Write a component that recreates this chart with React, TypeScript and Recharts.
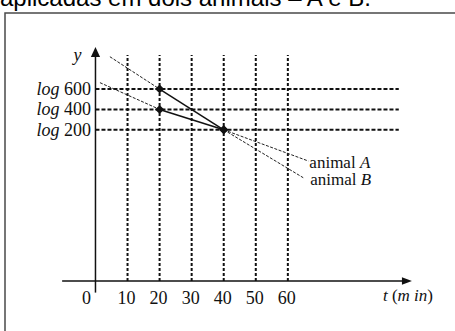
import { LineChart, Line, XAxis, YAxis, ReferenceLine, ReferenceDot } from 'recharts';

// y values are the quantities inside the log (log 600, log 400, log 200)
const levels = [600, 400, 200];
const timeTicks = [0, 10, 20, 30, 40, 50, 60];
const gridTimes = [10, 20, 30, 40, 50, 60];

// measured segments (t in min, n inside the log)
const animalA = [{ t: 20, n: 400 }, { t: 40, n: 200 }];
const animalB = [{ t: 20, n: 600 }, { t: 40, n: 200 }];
const animalALeft = [{ t: 1.4, n: 663 }, { t: 20, n: 400 }];
const animalARight = [{ t: 40, n: 200 }, { t: 66.4, n: -107 }];
const animalBLeft = [{ t: 4.5, n: 918 }, { t: 20, n: 600 }];
const animalBRight = [{ t: 40, n: 200 }, { t: 64.8, n: -271 }];

// axis extents in data units
const X_DOMAIN: [number, number] = [-12, 100];
const Y_DOMAIN: [number, number] = [-1400, 1100];
const X_AXIS_AT = -1286;
const X_AXIS_FROM = -10.4;
const X_AXIS_TIP = 98.7;
const Y_AXIS_TIP = 1014;
const GRID_TOP = 935;
const GRID_RIGHT = 94.6;

const SERIF = '"Liberation Serif", "Times New Roman", serif';
const INK = '#111';

const Diamond = (props: any) => {
  const { cx, cy } = props;
  if (cx == null || cy == null) return null;
  const r = 4.5;
  return <polygon points={`${cx},${cy - r} ${cx + r},${cy} ${cx},${cy + r} ${cx - r},${cy}`} fill={INK} />;
};

// arrow head pointing right, with the axis title under it
const RightArrow = (props: any) => {
  const { cx, cy } = props;
  return (
    <g>
      <polygon points={`${cx},${cy} ${cx - 10},${cy - 3.8} ${cx - 10},${cy + 3.8}`} fill={INK} />
      <text x={cx - 29} y={cy + 20} fontFamily={SERIF} fontSize={17} fill={INK}>
        <tspan fontStyle="italic">t</tspan>
        <tspan> (</tspan>
        <tspan fontStyle="italic">m in</tspan>
        <tspan>)</tspan>
      </text>
    </g>
  );
};

// arrow head pointing up, with the axis title beside it
const UpArrow = (props: any) => {
  const { cx, cy } = props;
  return (
    <g>
      <polygon points={`${cx},${cy} ${cx - 4.6},${cy + 10} ${cx + 4.6},${cy + 10}`} fill={INK} />
      <text x={cx - 18} y={cy + 14} textAnchor="middle" fontFamily={SERIF} fontSize={18} fontStyle="italic" fill={INK}>
        y
      </text>
    </g>
  );
};

const LevelLabel = (props: any) => {
  const { viewBox, n } = props;
  if (!viewBox) return null;
  return (
    <text x={viewBox.x - 4.5} y={viewBox.y + 6} textAnchor="end" fontFamily={SERIF} fontSize={18} fill={INK}>
      <tspan fontStyle="italic">log</tspan>
      <tspan>{' ' + n}</tspan>
    </text>
  );
};

const EndLabel = (props: any) => {
  const { x, y, index, name, dx, dy } = props;
  if (index !== 1) return null;
  return (
    <text x={x + dx} y={y + dy} fontFamily={SERIF} fontSize={17} fill={INK}>
      <tspan>animal </tspan>
      <tspan fontStyle="italic">{name}</tspan>
    </text>
  );
};

const TimeTick = (props: any) => {
  const { x, y, payload } = props;
  const shift = payload.value === 0 ? -9 : -1;
  return (
    <text x={x + shift} y={y + 11.5} textAnchor="middle" fontFamily={SERIF} fontSize={18} fill={INK}>
      {payload.value}
    </text>
  );
};

export default function App() {
  return (
    <div style={{ position: 'absolute', left: 0, top: 0, width: 455, height: 331, background: '#fff', overflow: 'hidden' }}>
      <svg width={455} height={331} style={{ position: 'absolute', left: 0, top: 0 }}>
        <text x={0} y={6} fontFamily='"Liberation Sans", Arial, sans-serif' fontSize={24} fill="#000">
          aplicadas em dois animais – A e B.
        </text>
        <rect x={5} y={13} width={470} height={340} fill="none" stroke="#4a4a4a" strokeWidth={1.5} />
      </svg>
      <div style={{ position: 'absolute', left: 0, top: 0 }}>
        <LineChart width={455} height={331} margin={{ top: 38.2, right: 38.9, bottom: 8.4, left: 57 }}>
          <XAxis
            type="number"
            dataKey="t"
            domain={X_DOMAIN}
            ticks={timeTicks}
            interval={0}
            axisLine={false}
            tickLine={false}
            tickSize={0}
            tickMargin={0}
            height={30}
            tick={<TimeTick />}
            allowDataOverflow
          />
          <YAxis type="number" dataKey="n" domain={Y_DOMAIN} hide allowDataOverflow />

          {gridTimes.map((t) => (
            <ReferenceLine
              key={`v-${t}`}
              segment={[{ x: t, y: X_AXIS_AT }, { x: t, y: GRID_TOP }]}
              stroke={INK}
              strokeWidth={2}
              strokeDasharray="3 2"
            />
          ))}
          {levels.map((n) => (
            <ReferenceLine
              key={`h-${n}`}
              segment={[{ x: 0, y: n }, { x: GRID_RIGHT, y: n }]}
              stroke={INK}
              strokeWidth={2}
              strokeDasharray="4 2"
              label={<LevelLabel n={n} />}
            />
          ))}

          <ReferenceLine
            segment={[{ x: 0, y: Y_DOMAIN[0] }, { x: 0, y: Y_AXIS_TIP - 60 }]}
            stroke={INK}
            strokeWidth={1.5}
          />
          <ReferenceLine
            segment={[{ x: X_AXIS_FROM, y: X_AXIS_AT }, { x: X_AXIS_TIP - 2, y: X_AXIS_AT }]}
            stroke={INK}
            strokeWidth={1.5}
          />
          <ReferenceDot x={X_AXIS_TIP} y={X_AXIS_AT} r={0} shape={RightArrow} />
          <ReferenceDot x={0} y={Y_AXIS_TIP} r={0} shape={UpArrow} />

          <Line data={animalALeft} dataKey="n" stroke="#222" strokeWidth={1} strokeDasharray="3 1.5" dot={false} isAnimationActive={false} />
          <Line data={animalBLeft} dataKey="n" stroke="#222" strokeWidth={1} strokeDasharray="3 1.5" dot={false} isAnimationActive={false} />
          <Line
            data={animalARight}
            dataKey="n"
            stroke="#222"
            strokeWidth={1}
            strokeDasharray="3 1.5"
            dot={false}
            isAnimationActive={false}
            label={<EndLabel name="A" dx={1} dy={7} />}
          />
          <Line
            data={animalBRight}
            dataKey="n"
            stroke="#222"
            strokeWidth={1}
            strokeDasharray="3 1.5"
            dot={false}
            isAnimationActive={false}
            label={<EndLabel name="B" dx={7} dy={7.5} />}
          />
          <Line data={animalA} dataKey="n" stroke={INK} strokeWidth={1.5} dot={<Diamond />} isAnimationActive={false} />
          <Line data={animalB} dataKey="n" stroke={INK} strokeWidth={1.5} dot={<Diamond />} isAnimationActive={false} />
        </LineChart>
      </div>
    </div>
  );
}
